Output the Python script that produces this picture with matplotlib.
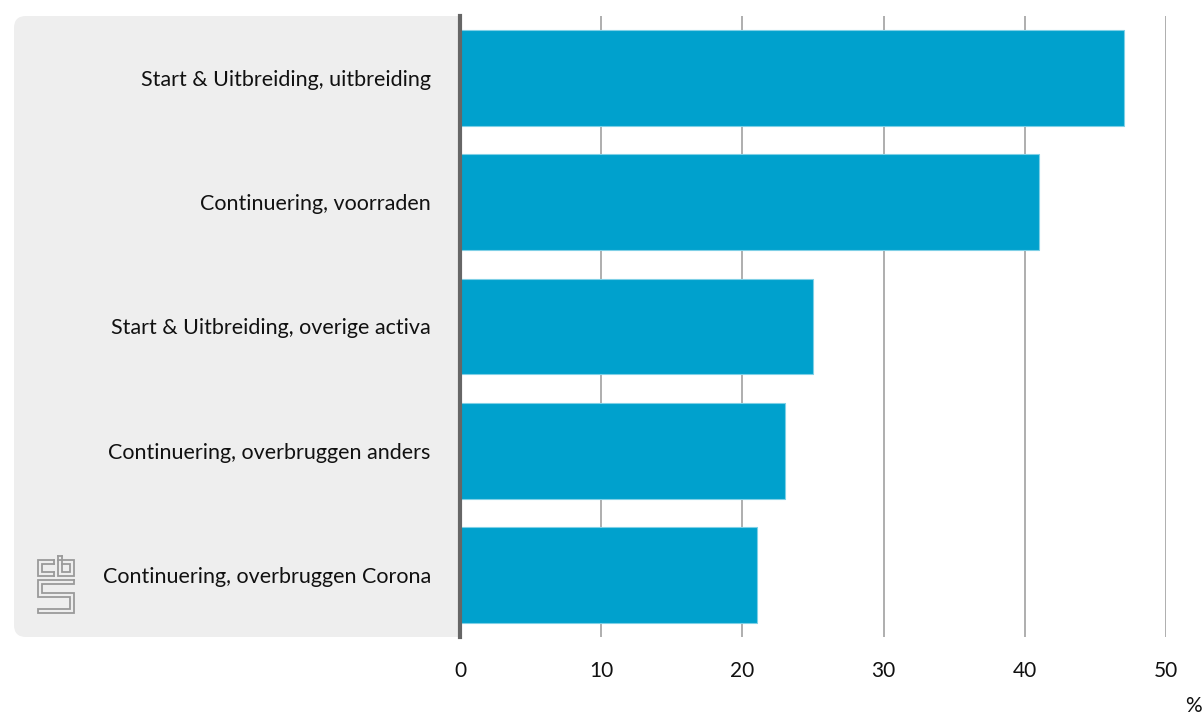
import matplotlib
matplotlib.use("Agg")
import matplotlib.pyplot as plt
from matplotlib.patches import FancyBboxPatch
from matplotlib.transforms import Affine2D

categories = [
    "Start & Uitbreiding, uitbreiding",
    "Continuering, voorraden",
    "Start & Uitbreiding, overige activa",
    "Continuering, overbruggen anders",
    "Continuering, overbruggen Corona",
]
values = [47, 41, 25, 23, 21]
xticks = [0, 10, 20, 30, 40, 50]
unit_label = "%"

W, H = 1203, 717
fig = plt.figure(figsize=(W / 100, H / 100), dpi=100)
plt.rcParams['font.family'] = ['Lato', 'DejaVu Sans']

ax_left, ax_right, ax_top, ax_bottom = 460, 1166, 16, 637
ax = fig.add_axes([ax_left / W, 1 - ax_bottom / H, (ax_right - ax_left) / W, (ax_bottom - ax_top) / H])
ax.set_facecolor("white")

# pixel transform (top-left origin)
pix = Affine2D().scale(1 / W, -1 / H).translate(0, 1) + fig.transFigure

panel = FancyBboxPatch((14, 16), 480 - 14, 637 - 16,
                       boxstyle="round,pad=0,rounding_size=12",
                       transform=pix, facecolor="#eeeeee", edgecolor="none", zorder=-5)
fig.patches.append(panel)

y = list(range(len(categories)))
ax.barh(y, values, height=0.77, color="#00a1cd", edgecolor="#7fd0e6", linewidth=0.8, zorder=3)
ax.set_ylim(len(categories) - 0.5, -0.5)
ax.set_xlim(0, 50)
ax.set_xticks(xticks)
ax.set_xticklabels([str(t) for t in xticks])
ax.set_yticks(y)
ax.set_yticklabels(categories)
ax.tick_params(axis="both", length=0, colors="#111111")
ax.tick_params(axis="y", pad=21, labelsize=15.5)
ax.tick_params(axis="x", pad=17, labelsize=15)
ax.grid(axis="x", color="#999999", linewidth=1.1, zorder=1)
ax.set_axisbelow(True)
for s in ["top", "right", "bottom"]:
    ax.spines[s].set_visible(False)
ax.spines["left"].set_color("#666666")
ax.spines["left"].set_linewidth(3)
ax.spines["left"].set_zorder(4)

fig.text(1193 / W, 1 - 706 / H, unit_label, ha="center", va="center", fontsize=15, color="#111111")

# cbs logo (approximate line drawing)
lc = "#9a9a9a"
lw = 1.3
def pl(xs, ys):
    fig.add_artist(plt.Line2D(xs, ys, transform=pix, color=lc, linewidth=lw, solid_joinstyle="miter"))
# "c"
pl([54, 38, 38, 54], [560, 560, 576, 576])
pl([54, 42, 42, 54], [564, 564, 572, 572])
pl([54, 54], [560, 564]); pl([54, 54], [572, 576])
# "b"
pl([58, 58, 74, 74, 58], [556, 576, 576, 560, 560])
pl([62, 62, 70, 70, 62], [556, 572, 572, 564, 564])
pl([58, 62], [556, 556])
# "S"
pl([74, 38, 38, 70, 70, 38, 38, 74, 74, 42, 42, 74, 74], [580, 580, 597, 597, 609, 609, 613, 613, 593, 593, 584, 584, 580])

fig.savefig("out.png", dpi=100)
